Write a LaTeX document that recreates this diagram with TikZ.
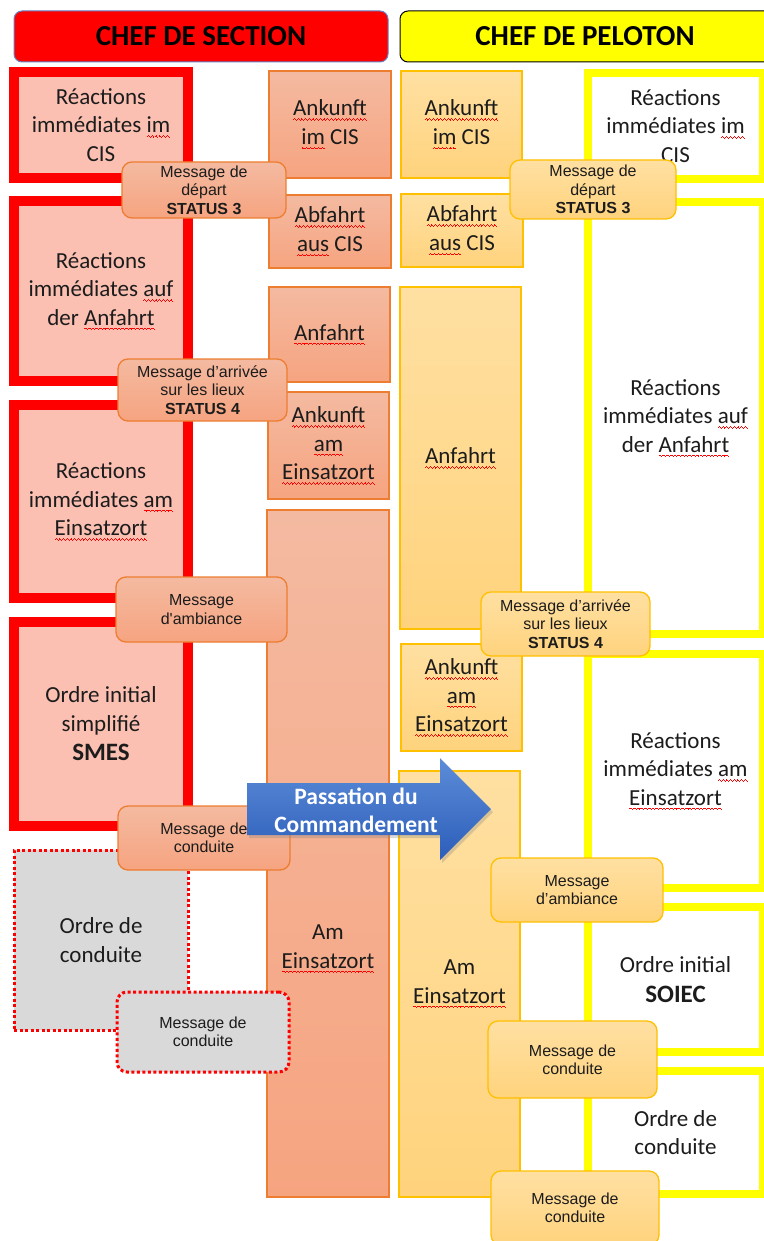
\documentclass[tikz,border=0pt]{standalone}
\usepackage{fontspec}
\setmainfont{Carlito}
\newfontfamily\arialfont{Liberation Sans}
\usetikzlibrary{shadows}

% red wavy underline under words flagged by the spell checker
\newcommand\wavebit[1]{\lower#1pt\hbox{\vrule width 0.9pt height 0.8pt depth 0pt}}
\newcommand\sq[1]{\leavevmode\setbox0\hbox{#1}%
  \rlap{\color{red}\hbox to \wd0{\xleaders\hbox{\wavebit{4.0}\wavebit{3.3}\wavebit{4.0}\wavebit{4.7}}\hfill}}%
  \box0\relax}

\definecolor{secRed}{RGB}{255,0,0}
\definecolor{secFill}{RGB}{251,192,178}
\definecolor{salTop}{RGB}{244,186,161}
\definecolor{salBot}{RGB}{246,164,128}
\definecolor{salLine}{RGB}{237,125,49}
\definecolor{sandTop}{RGB}{255,224,162}
\definecolor{sandBot}{RGB}{255,211,125}
\definecolor{sandLine}{RGB}{255,192,0}
\definecolor{pelYellow}{RGB}{255,255,0}
\definecolor{greyFill}{RGB}{217,217,217}
\definecolor{arrTop}{RGB}{92,140,216}
\definecolor{arrBot}{RGB}{44,94,186}
\definecolor{hdrLine}{RGB}{100,130,200}
\definecolor{ink}{RGB}{28,28,28}

\tikzset{
  big/.style={font=\fontsize{23}{28.5}\selectfont, align=center, text=ink, inner sep=0pt},
  redframe/.style={big, draw=secRed, line width=10pt, fill=secFill},
  yelframe/.style={big, draw=pelYellow, line width=8.5pt, fill=white},
  salbox/.style={big, draw=salLine, line width=1.2pt, top color=salTop, bottom color=salBot},
  sandbox/.style={big, draw=sandLine, line width=1.2pt, top color=sandTop, bottom color=sandBot},
  dotframe/.style={big, draw=secRed, line width=3pt, dash pattern=on 3pt off 2.5pt, fill=greyFill},
  msg/.style={font=\arialfont\fontsize{16}{18.4}\selectfont, align=center, text=ink,
    inner sep=0pt, rounded corners=10pt, line width=1.3pt},
  salmsg/.style={msg, draw=salLine, top color=salTop, bottom color=salBot},
  sandmsg/.style={msg, draw=sandLine, top color=sandTop, bottom color=sandBot},
  dotmsg/.style={msg, draw=secRed, line width=3pt, dash pattern=on 3pt off 2.5pt, fill=greyFill},
  header/.style={font=\bfseries\fontsize{29}{34}\selectfont, text=black, inner sep=0pt,
    rounded corners=8pt, line width=1pt},
}

% \panel{style}{name}{x1}{y1}{x2}{y2}{text}: box whose border runs along the given rectangle
\newcommand\panel[7]{%
  \node[#1, minimum width={#5-#3}, minimum height={#6-#4}] (#2)
    at ({(#3+#5)/2},{(#4+#6)/2}) {#7};}

\begin{document}
\begin{tikzpicture}[x=1pt, y=-1pt]
\useasboundingbox (0,0) rectangle (763,1241);

% column headers
\panel{header, fill=secRed, draw=hdrLine}{hsec}{14}{11}{388}{62}{CHEF DE SECTION}
\panel{header, fill=pelYellow, draw=black}{hpel}{400}{11}{775}{62}{\hspace*{-5pt}CHEF DE PELOTON}

% chef de section: reactions and orders
\panel{redframe}{secim}{14}{72}{188}{178}{Réactions\\immédiates \sq{im}\\CIS}
\panel{redframe}{secauf}{14}{201}{188}{381}{Réactions\\immédiates \sq{auf}\\der \sq{Anfahrt}}
\panel{redframe}{secam}{14}{405}{188}{598}{Réactions\\immédiates \sq{am}\\\sq{Einsatzort}}
\panel{redframe}{secsmes}{14}{622}{188}{826}{Ordre initial\\simplifié\\[1pt]{\bfseries\fontsize{25}{30}\selectfont SMES}}
\panel{dotframe}{seccond}{14}{850}{188}{1030}{Ordre de\\conduite}

% chef de section: phases
\panel{salbox}{sphA}{269}{71}{391}{178}{\sq{Ankunft}\\\sq{im} CIS}
\panel{salbox}{sphB}{269}{195}{391}{268}{\sq{Abfahrt}\\\sq{aus} CIS}
\panel{salbox}{sphC}{269}{287}{390}{382}{\sq{Anfahrt}}
\panel{salbox}{sphD}{268}{392}{389}{499}{\sq{Ankunft}\\\sq{am}\\\sq{Einsatzort}}
\panel{salbox}{sphE}{267}{510}{389}{1197}{}
\node[big] (sphEtext) at (328,949) {Am\\\sq{Einsatzort}};

% chef de peloton: phases
\panel{sandbox}{pphA}{401}{71}{522}{178}{\sq{Ankunft}\\\sq{im} CIS}
\panel{sandbox}{pphB}{401}{194}{523}{267}{\sq{Abfahrt}\\\sq{aus} CIS}
\panel{sandbox}{pphC}{400}{287}{521}{629}{\sq{Anfahrt}}
\panel{sandbox}{pphD}{401}{644}{522}{751}{\sq{Ankunft}\\\sq{am}\\\sq{Einsatzort}}
\panel{sandbox}{pphE}{399}{771}{520}{1197}{Am\\\sq{Einsatzort}}

% chef de peloton: reactions and orders
\panel{yelframe}{pelim}{588}{73}{763}{179}{Réactions\\immédiates \sq{im}\\CIS}
\panel{yelframe}{pelauf}{588}{202}{763}{634}{Réactions\\immédiates \sq{auf}\\der \sq{Anfahrt}}
\panel{yelframe}{pelam}{588}{654}{763}{888}{Réactions\\immédiates \sq{am}\\\sq{Einsatzort}}
\panel{yelframe}{pelsoiec}{588}{907}{763}{1052}{Ordre initial\\[1pt]{\bfseries\fontsize{25}{30}\selectfont SOIEC}}
\panel{yelframe}{pelcond}{588}{1071}{763}{1194}{Ordre de\\conduite}

% radio messages, chef de section
\panel{salmsg}{smA}{122}{162}{286}{218}{Message de\\départ\\\textbf{STATUS 3}}
\panel{salmsg}{smB}{118}{359}{287}{421}{Message d’arrivée\\sur les lieux\\\textbf{STATUS 4}}
\panel{salmsg}{smC}{116}{577}{287}{642}{Message\\d'ambiance}
\panel{salmsg}{smD}{118}{806}{290}{870}{Message de\\conduite}
\panel{dotmsg}{smE}{117}{992}{289}{1072}{Message de\\conduite}

% radio messages, chef de peloton
\panel{sandmsg}{pmA}{510}{160}{676}{219}{Message de\\départ\\\textbf{STATUS 3}}
\panel{sandmsg}{pmB}{481}{592}{650}{656}{Message d’arrivée\\sur les lieux\\\textbf{STATUS 4}}
\panel{sandmsg}{pmC}{491}{858}{663}{922}{Message\\d’ambiance}
\panel{sandmsg}{pmD}{488}{1021}{657}{1098}{Message de\\conduite}
\panel{sandmsg}{pmE}{491}{1171}{659}{1245}{Message de\\conduite}

% handover of command
\path[top color=arrTop, bottom color=arrBot,
      drop shadow={opacity=0.3, shadow xshift=2pt, shadow yshift=-3pt}]
  (247,783) -- (440,783) -- (440,758) -- (491,809) -- (440,860) -- (440,835) -- (247,835) -- cycle;
\node[font=\bfseries\fontsize{23.5}{28}\selectfont, text=white, align=center, inner sep=0pt]
  (handover) at (356,810) {Passation du\\Commandement};
\end{tikzpicture}
\end{document}
